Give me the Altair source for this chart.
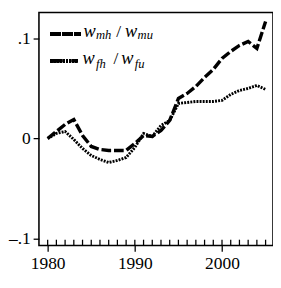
import altair as alt
import pandas as pd

years = list(range(1980, 2006))
w_mh_mu = [0.000, 0.007, 0.014, 0.019, 0.003, -0.008, -0.011, -0.012, -0.012, -0.012,
           -0.005, 0.003, 0.002, 0.008, 0.018, 0.040, 0.045, 0.052, 0.061, 0.069,
           0.080, 0.087, 0.093, 0.097, 0.090, 0.117]
w_fh_fu = [0.000, 0.005, 0.007, -0.001, -0.010, -0.017, -0.021, -0.024, -0.022, -0.019,
           -0.009, 0.005, 0.002, 0.013, 0.018, 0.035, 0.036, 0.037, 0.037, 0.037,
           0.038, 0.044, 0.048, 0.050, 0.053, 0.049]
y_ticks = [-0.1, 0.0, 0.1]
x_ticks = [1980, 1990, 2000]

FONT = "Liberation Serif"
W, H = 242, 241

df = pd.DataFrame({"year": years, "mh": w_mh_mu, "fh": w_fh_fu})
ticks_df = pd.DataFrame({"year": years})

xs = alt.Scale(domain=[1979, 2005.85], nice=False, zero=False)
ys = alt.Scale(domain=[-0.107, 0.126], nice=False, zero=False)

base = alt.Chart(df)

xaxis = alt.Axis(values=x_ticks, format="d", tickSize=6, tickColor="black", tickWidth=1.3,
                 labelFont=FONT, labelFontSize=18, labelColor="black", labelPadding=4,
                 domain=False, grid=False, title=None)
yaxis = alt.Axis(values=y_ticks, tickSize=6, tickColor="black", tickWidth=1.3,
                 labelFont=FONT, labelFontSize=18, labelColor="black", labelPadding=3,
                 labelExpr="datum.value > 0.05 ? '.1' : (datum.value < -0.05 ? '\u2013.1' : '0')",
                 domain=False, grid=False, title=None, minExtent=29, maxExtent=29)

mh_line = base.mark_line(color="black", strokeWidth=3.5, strokeDash=[10, 3], strokeCap="butt").encode(
    x=alt.X("year:Q", scale=xs, axis=xaxis),
    y=alt.Y("mh:Q", scale=ys, axis=yaxis),
)
fh_line = base.mark_line(color="black", strokeWidth=3, strokeDash=[2, 1.2], strokeCap="butt").encode(
    x=alt.X("year:Q", scale=xs),
    y=alt.Y("fh:Q", scale=ys),
)

minor = alt.Chart(ticks_df).mark_rule(color="black", strokeWidth=1.3).encode(
    x=alt.X("year:Q", scale=xs),
    y=alt.value(H),
    y2=alt.value(H - 6),
)

leg_dash = alt.Chart(df).mark_rule(color="black", strokeWidth=3.5, strokeDash=[10, 2.5]).encode(
    x=alt.value(12), x2=alt.value(43), y=alt.value(22)
)
leg_dot = alt.Chart(df).mark_rule(color="black", strokeWidth=3, strokeDash=[2, 1.2]).encode(
    x=alt.value(12), x2=alt.value(40), y=alt.value(50)
)


def txt(s, x, y, size, italic=True):
    return alt.Chart(pd.DataFrame({"t": [s]})).mark_text(
        font=FONT, fontSize=size, fontStyle="italic" if italic else "normal",
        align="left", baseline="alphabetic", color="black"
    ).encode(text="t:N", x=alt.value(x), y=alt.value(y))


legend_texts = [
    txt("w", 46, 25, 19), txt("mh", 59, 28, 13), txt("/", 80, 25, 18, False),
    txt("w", 89, 25, 19), txt("mu", 102, 28, 13),
    txt("w", 45, 53, 19), txt("fh", 59, 57, 13), txt("/", 77, 53, 18, False),
    txt("w", 85, 53, 19), txt("fu", 99, 57, 13),
]

chart = alt.layer(minor, fh_line, mh_line, leg_dash, leg_dot, *legend_texts).properties(
    width=W, height=H, background="white",
    padding={"left": 0, "top": 0, "right": 0, "bottom": 0}
).configure_view(stroke="black", strokeWidth=1.6)

chart.save("out.html", embed_options={"renderer": "svg", "actions": False})
